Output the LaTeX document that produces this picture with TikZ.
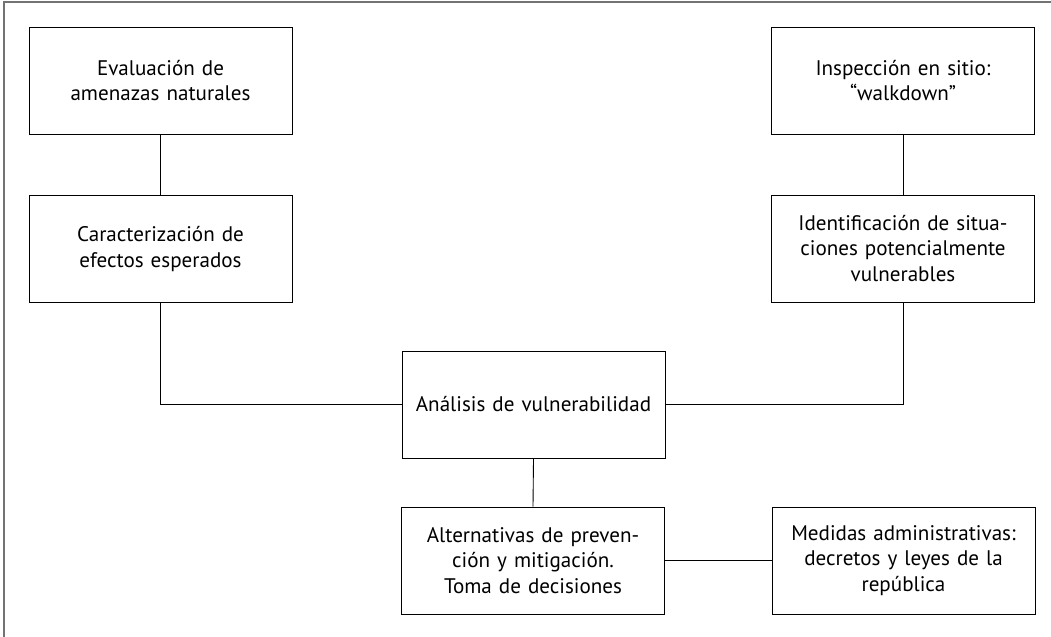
\documentclass[tikz,border=0pt]{standalone}
\usepackage{fontspec}
\setmainfont{PT Sans}
\usepackage{tikz}
\usetikzlibrary{arrows,shapes,positioning,calc}

\begin{document}
\begin{tikzpicture}[
    box/.style={rectangle, draw, line width=0.5pt, text width=4.9cm, align=center, minimum width=5.26cm, minimum height=2.14cm, font=\fontsize{12}{14.5}\selectfont},
    link/.style={line width=0.5pt}
]
\useasboundingbox (0,0) rectangle (21.02,-12.74);

% Frame
\draw[gray!90!black, line width=0.8pt] (0.08,-12.74) -- (0.08,-0.04) -- (21.02,-0.04);

% Draw boxes
\node[box] (evaluacion) at (3.21,-1.61) {Evaluación de\\amenazas naturales\\[0.3cm]};
\node[box] (caracterizacion) at (3.21,-4.98) {Caracterización de\\efectos esperados\\[0.3cm]};
\node[box] (inspeccion) at (18.06,-1.61) {Inspección en sitio:\\``walkdown''\\[0.3cm]};
\node[box] (identificacion) at (18.06,-4.97) {Identificación de situa-\\ciones potencialmente\\vulnerables};
\node[box] (analisis) at (10.67,-8.09) {Análisis de vulnerabilidad};
\node[box] (alternativas) at (10.66,-11.21) {Alternativas de preven-\\ción y mitigación.\\Toma de decisiones};
\node[box] (medidas) at (18.07,-11.21) {Medidas administrativas:\\decretos y leyes de la\\república};

% Draw connectors
\draw[link] (evaluacion.south) -- (caracterizacion.north);
\draw[link] (inspeccion.south) -- (identificacion.north);
\draw[link] (caracterizacion.south) |- (analisis.west);
\draw[link] (identificacion.south) |- (analisis.east);
\draw[link] (analisis.south) -- (alternativas.north);
\draw[link] (alternativas.east) -- (medidas.west);

\end{tikzpicture}
\end{document}
